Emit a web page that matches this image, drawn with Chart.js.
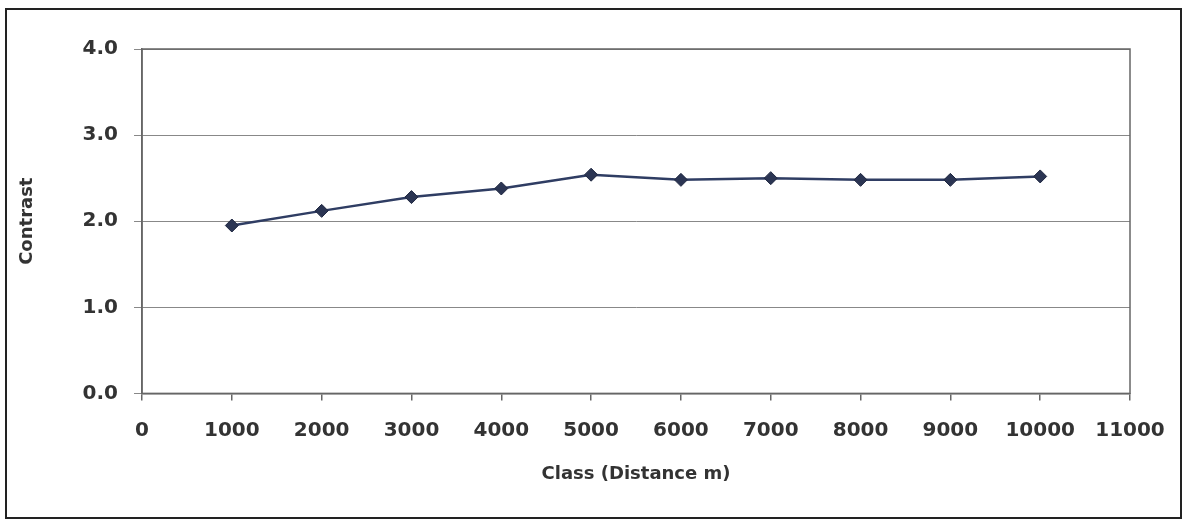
<!DOCTYPE html>
<html>
<head>
<meta charset="utf-8">
<script src="https://cdn.jsdelivr.net/npm/chart.js@4"></script>
<style>
  html, body { margin: 0; padding: 0; background: #fff; }
  #wrap { position: relative; width: 1186px; height: 519px; }
  #frame { position: absolute; left: 5px; top: 8px; width: 1173px; height: 507px; border: 2px solid #222; box-sizing: content-box; pointer-events: none; }
  canvas { position: absolute; left: 0; top: 0; }
</style>
</head>
<body>
<div id="wrap">
  <canvas id="c" width="1186" height="519"></canvas>
  <div id="frame"></div>
</div>
<script>
const distances = [1000, 2000, 3000, 4000, 5000, 6000, 7000, 8000, 9000, 10000];
const contrast = [1.95, 2.12, 2.28, 2.38, 2.54, 2.48, 2.50, 2.48, 2.48, 2.52];
const xTitle = 'Class (Distance m)';
const yTitle = 'Contrast';

const frameBox = {
  id: 'frameBox',
  afterDraw(chart) {
    const a = chart.chartArea, ctx = chart.ctx;
    ctx.save();
    ctx.strokeStyle = '#666';
    ctx.lineWidth = 1.5;
    ctx.strokeRect(a.left, a.top, a.right - a.left, a.bottom - a.top);
    ctx.restore();
  }
};

const tickFont = { family: 'DejaVu Sans', weight: 'bold', size: 20 };
const titleFont = { family: 'DejaVu Sans', weight: 'bold', size: 18 };

new Chart(document.getElementById('c'), {
  type: 'line',
  data: {
    datasets: [{
      data: distances.map((d, i) => ({ x: d, y: contrast[i] })),
      borderColor: '#2f3d63',
      backgroundColor: '#2b3553',
      borderWidth: 2.5,
      pointStyle: 'rectRot',
      pointRadius: 6.5,
      pointBorderColor: '#1f2740',
      pointBorderWidth: 1,
      tension: 0
    }]
  },
  options: {
    responsive: false,
    animation: false,
    events: [],
    layout: { padding: { left: 17, right: 56, top: 49, bottom: 34 } },
    plugins: { legend: { display: false }, tooltip: { enabled: false } },
    scales: {
      x: {
        type: 'linear', min: 0, max: 11000,
        border: { color: '#666', width: 1.5 },
        grid: { drawOnChartArea: false, tickLength: 7, color: '#666', lineWidth: 1.5 },
        ticks: { stepSize: 1000, color: '#333', padding: 18, font: tickFont, maxRotation: 0, callback: v => String(v) },
        title: { display: true, text: xTitle, color: '#333', padding: { top: 3, bottom: 0 }, font: titleFont }
      },
      y: {
        min: 0, max: 4,
        border: { color: '#666', width: 1.5 },
        grid: { color: '#888', lineWidth: 1, tickLength: 8 },
        ticks: { stepSize: 1, color: '#333', padding: 16, font: tickFont, callback: v => v.toFixed(1) },
        title: { display: true, text: yTitle, color: '#333', padding: { top: 0, bottom: 28 }, font: titleFont }
      }
    }
  },
  plugins: [frameBox]
});
</script>
</body>
</html>
